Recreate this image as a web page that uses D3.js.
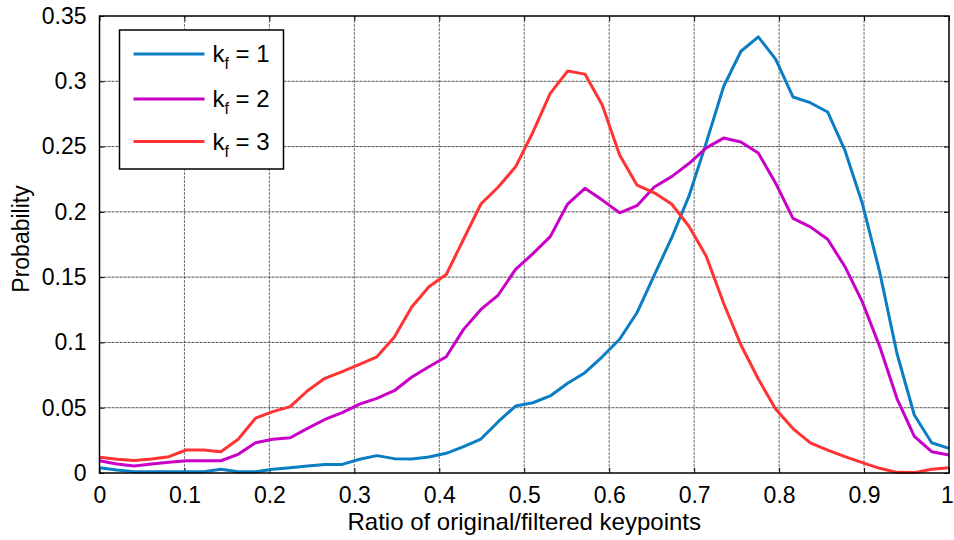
<!DOCTYPE html>
<html>
<head>
<meta charset="utf-8">
<script src="https://cdn.jsdelivr.net/npm/d3@7"></script>
<style>
  body { margin: 0; background: #fff; }
  svg { font-family: "Liberation Sans", Arial, sans-serif; }
</style>
</head>
<body>
<div id="chart"></div>
<script>
(function() {
  // Ratio values: 50 evenly spaced points from 0 to 1
  const ratio = d3.range(50).map(i => i / 49);

  const kf1 = [0.004, 0.0023, 0.001, 0.001, 0.001, 0.001, 0.001, 0.0028, 0.001, 0.001,
    0.0028, 0.004, 0.0054, 0.0066, 0.0066, 0.0105, 0.0133, 0.011, 0.0107, 0.0122,
    0.0151, 0.0202, 0.026, 0.0393, 0.0513, 0.0538, 0.059, 0.0687, 0.0768, 0.089,
    0.1024, 0.1227, 0.1516, 0.18, 0.212, 0.253, 0.296, 0.323, 0.334, 0.317,
    0.288, 0.2836, 0.2765, 0.247, 0.2065, 0.154, 0.0915, 0.0444, 0.0232, 0.0189];

  const kf2 = [0.0094, 0.0069, 0.0054, 0.0069, 0.0082, 0.0094, 0.0094, 0.0094, 0.0143, 0.0232,
    0.0258, 0.027, 0.0342, 0.041, 0.0462, 0.0528, 0.0572, 0.063, 0.0733, 0.0814,
    0.089, 0.11, 0.1253, 0.1363, 0.156, 0.168, 0.181, 0.206, 0.218, 0.209,
    0.1993, 0.2047, 0.219, 0.227, 0.237, 0.249, 0.2565, 0.2535, 0.245, 0.222,
    0.195, 0.1885, 0.179, 0.158, 0.131, 0.097, 0.057, 0.028, 0.0163, 0.0138];

  const kf3 = [0.012, 0.0105, 0.0095, 0.0107, 0.0125, 0.0176, 0.0176, 0.0163, 0.0258, 0.042,
    0.047, 0.0508, 0.063, 0.0725, 0.0776, 0.0832, 0.089, 0.104, 0.127, 0.1427,
    0.152, 0.179, 0.206, 0.219, 0.2345, 0.261, 0.2907, 0.3078, 0.3055, 0.2818,
    0.2435, 0.2205, 0.2146, 0.206, 0.189, 0.166, 0.13, 0.098, 0.072, 0.049,
    0.034, 0.023, 0.0176, 0.0125, 0.008, 0.0036, 0.0005, 0.0003, 0.0028, 0.004];

  const seriesNames = ["1", "2", "3"];
  const seriesColors = ["#0b7ec3", "#c800c8", "#ff3333"];
  const seriesValues = [kf1, kf2, kf3];

  const xTicks = [0, 0.1, 0.2, 0.3, 0.4, 0.5, 0.6, 0.7, 0.8, 0.9, 1];
  const yTicks = [0, 0.05, 0.1, 0.15, 0.2, 0.25, 0.3, 0.35];

  const width = 954, height = 540;
  const margin = { top: 16, right: 5, bottom: 67, left: 99.5 };
  const innerW = 949 - margin.left;
  const innerH = 473 - margin.top;

  const svg = d3.select("#chart").append("svg")
    .attr("width", width)
    .attr("height", height);

  const g = svg.append("g")
    .attr("transform", `translate(${margin.left},${margin.top})`);

  const x = d3.scaleLinear().domain([0, 1]).range([0, innerW]);
  const y = d3.scaleLinear().domain([0, 0.35]).range([innerH, 0]);

  // grid
  g.append("g").selectAll("line")
    .data(xTicks.slice(1, -1))
    .join("line")
    .attr("x1", d => x(d)).attr("x2", d => x(d))
    .attr("y1", 0).attr("y2", innerH)
    .attr("stroke", "#444")
    .attr("stroke-opacity", 0.75)
    .attr("stroke-dasharray", "3,1");

  g.append("g").selectAll("line")
    .data(yTicks.slice(1, -1))
    .join("line")
    .attr("x1", 0).attr("x2", innerW)
    .attr("y1", d => y(d)).attr("y2", d => y(d))
    .attr("stroke", "#333")
    .attr("stroke-opacity", 0.85)
    .attr("stroke-dasharray", "3,1");

  // axes with inward ticks
  const tickLen = 5;
  const xAxis = g.append("g")
    .attr("transform", `translate(0,${innerH})`)
    .call(d3.axisBottom(x).tickValues(xTicks).tickSize(-tickLen).tickPadding(14)
      .tickFormat(d => d3.format("")(d)));
  const xAxisTop = g.append("g")
    .call(d3.axisTop(x).tickValues(xTicks).tickSize(-tickLen).tickFormat(""));
  const yAxis = g.append("g")
    .call(d3.axisLeft(y).tickValues(yTicks).tickSize(-tickLen).tickPadding(13)
      .tickFormat(d => d3.format("")(+d.toFixed(2))));
  const yAxisRight = g.append("g")
    .attr("transform", `translate(${innerW},0)`)
    .call(d3.axisRight(y).tickValues(yTicks).tickSize(-tickLen).tickFormat(""));

  [xAxis, xAxisTop, yAxis, yAxisRight].forEach(a => {
    a.select(".domain").remove();
    a.selectAll(".tick line").attr("stroke", "#000").attr("stroke-width", 1);
    a.selectAll("text")
      .attr("font-size", 23)
      .attr("fill", "#000")
      .attr("font-family", "Liberation Sans, Arial, sans-serif");
  });
  // keep the last x label inside the picture
  xAxis.selectAll(".tick text").filter(d => d === 1).attr("dx", -2);

  // lines
  const line = d3.line()
    .x((d, i) => x(ratio[i]))
    .y(d => y(d));

  g.append("g").selectAll("path")
    .data(seriesValues)
    .join("path")
    .attr("d", line)
    .attr("fill", "none")
    .attr("stroke", (d, i) => seriesColors[i])
    .attr("stroke-width", 3)
    .attr("stroke-linejoin", "round");

  // frame
  g.append("rect")
    .attr("width", innerW)
    .attr("height", innerH)
    .attr("fill", "none")
    .attr("stroke", "#000")
    .attr("stroke-width", 1.5);

  // axis titles
  svg.append("text")
    .attr("x", margin.left + innerW / 2)
    .attr("y", 530)
    .attr("text-anchor", "middle")
    .attr("font-size", 24)
    .text("Ratio of original/filtered keypoints");

  svg.append("text")
    .attr("transform", `translate(29,239) rotate(-90)`)
    .attr("text-anchor", "middle")
    .attr("font-size", 23)
    .text("Probability");

  // legend
  const legend = svg.append("g").attr("transform", "translate(119.5,30)");
  legend.append("rect")
    .attr("width", 164)
    .attr("height", 139)
    .attr("fill", "#fff")
    .attr("stroke", "#000")
    .attr("stroke-width", 1.5);

  const legendY = [24, 69, 111.5];
  seriesNames.forEach((name, i) => {
    const row = legend.append("g").attr("transform", `translate(0,${legendY[i]})`);
    row.append("line")
      .attr("x1", 14).attr("x2", 85)
      .attr("stroke", seriesColors[i])
      .attr("stroke-width", 3);
    const t = row.append("text")
      .attr("x", 93)
      .attr("y", 8)
      .attr("font-size", 24);
    t.append("tspan").text("k");
    t.append("tspan").attr("font-size", 16).attr("dy", 7).text("f");
    t.append("tspan").attr("dy", -7).text(" = " + name);
  });
})();
</script>
</body>
</html>
